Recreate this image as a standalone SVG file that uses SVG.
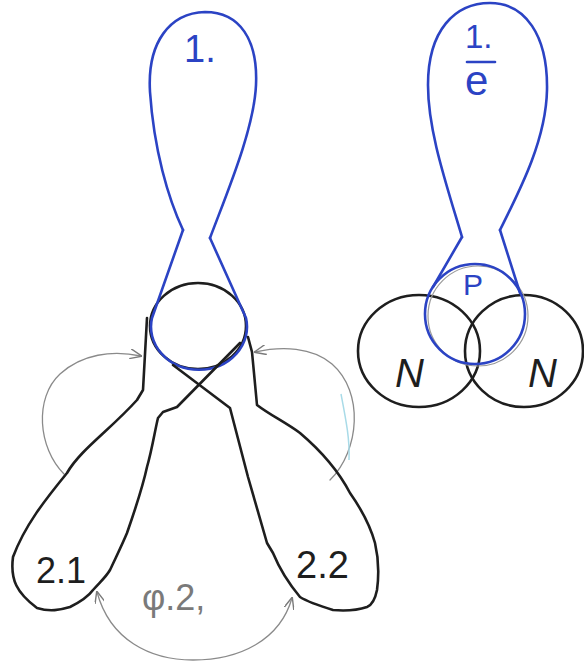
<svg xmlns="http://www.w3.org/2000/svg" width="584" height="665" viewBox="0 0 584 665">
<style>
.blue{fill:none;stroke:#2b43c4;stroke-width:2.6;stroke-linecap:round;stroke-linejoin:round}
.black{fill:none;stroke:#1e1e1e;stroke-width:2.6;stroke-linecap:round;stroke-linejoin:round}
.gray{fill:none;stroke:#8a8a8a;stroke-width:1.3;stroke-linecap:round}
.t{font-family:"Liberation Sans",Arial,sans-serif}
.tb{fill:#2b43c4}
.tk{fill:#1e1e1e}
.tg{fill:#7a7a7a}
</style>
<defs>
<marker id="arr" viewBox="0 0 12 10" refX="11" refY="5" markerWidth="12" markerHeight="10" markerUnits="userSpaceOnUse" orient="auto-start-reverse">
<path d="M0,0 L12,5 L0,10" fill="none" stroke="#7a7a7a" stroke-width="1.4"/>
</marker>
</defs>
<rect width="584" height="665" fill="#ffffff"/>

<g id="connectors">
<path class="gray" d="M64,474 C38,448 34,398 60,374 C82,354 112,350 141,356" marker-end="url(#arr)"/>
<path class="gray" d="M330,480 C360,450 364,392 332,364 C312,347 282,346 255,352" marker-end="url(#arr)"/>
<path class="gray" d="M97,592 C110,640 150,660 193,660 C240,660 280,640 292,598" marker-start="url(#arr)" marker-end="url(#arr)"/>
<path d="M341,394 C346,420 350,440 349,460" fill="none" stroke="#a9dbe8" stroke-width="1.5"/>
</g>

<g id="node-1">
<path class="blue" d="M183,230 C168,198 154,150 150,92 C147,42 170,13 205,12 C240,12 258,40 256,85 C254,130 226,195 210,238"/>
<text class="t tb" x="184" y="62" font-size="38">1.</text>
</g>

<g id="node-center">
<ellipse class="black" cx="198" cy="326" rx="48" ry="43"/>
<path class="blue" d="M183,230 L152,318 A48,43 0 1,0 246,318 L210,238"/>
</g>

<g id="node-2-1">
<path class="black" d="M147,318 L143,390 L137,400 C110,430 80,450 67,473 C45,500 25,525 13,557 C10,580 17,593 37,608 C50,612 60,610 70,607 C80,602 88,597 93,590 C100,582 106,577 110,570 C117,555 122,545 127,533 C135,510 142,490 147,467 C152,450 155,430 158,418 L163,412 L177,407 L240,343"/>
<text class="t tk" x="36" y="583" font-size="36">2.1</text>
</g>

<g id="node-2-2">
<path class="black" d="M248,337 L252,352 L257,405 C270,415 285,422 300,433 C320,450 338,470 350,493 C362,510 370,525 375,543 C379,560 379,575 377,590 C375,600 372,605 367,607 C355,611 345,611 333,610 C320,606 308,602 300,597 C290,585 280,570 273,553 L267,543 L248,477 L230,408 L173,365"/>
<text class="t tk" x="296" y="578" font-size="38">2.2</text>
</g>

<text class="t tg" x="142" y="610" font-size="36">φ.2,</text>

<g id="node-N-left">
<ellipse class="black" cx="419" cy="351" rx="61" ry="56"/>
<text class="t tk" x="395" y="387" font-size="40" font-style="italic">N</text>
</g>

<g id="node-N-right">
<ellipse class="black" cx="524" cy="351" rx="59" ry="56"/>
<text class="t tk" x="528" y="387" font-size="40" font-style="italic">N</text>
</g>

<g id="node-1e">
<path class="blue" d="M462,237 C445,180 428,130 428,85 C428,30 455,3 490,3 C525,3 548,35 547,90 C546,140 520,190 500,230"/>
<text class="t tb" x="465" y="48" font-size="33">1.</text>
<line x1="467" y1="62" x2="495" y2="62" stroke="#2b43c4" stroke-width="2.6" stroke-linecap="round"/>
<text class="t tb" x="465" y="95" font-size="42">e</text>
</g>

<g id="node-P">
<circle cx="478" cy="316" r="50" fill="none" stroke="#9a9a9a" stroke-width="1.2"/>
<path class="blue" d="M462,237 L433,287"/>
<path class="blue" d="M500,230 L520,293"/>
<circle class="blue" cx="475" cy="314" r="50"/>
<text class="t tb" x="463" y="295" font-size="30">P</text>
</g>
</svg>
